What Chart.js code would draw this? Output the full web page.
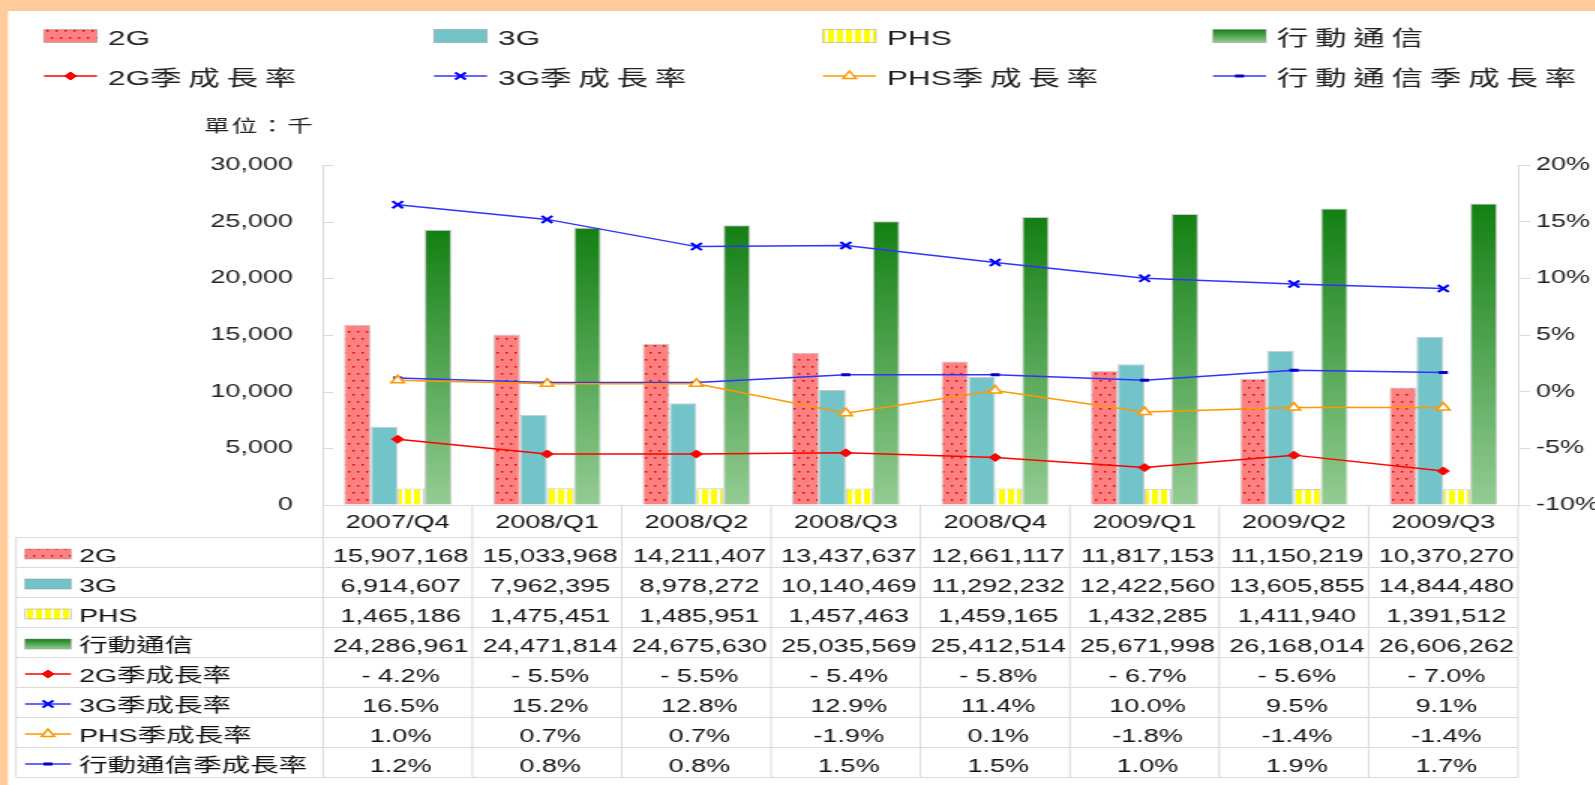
<!DOCTYPE html>
<html>
<head>
<meta charset="utf-8">
<script src="https://cdn.jsdelivr.net/npm/chart.js@4.4.1/dist/chart.umd.min.js"></script>
<style>
html, body { margin: 0; padding: 0; background: #FFCC99; overflow: hidden; }
#wrap { width: 1595px; height: 785px; overflow: hidden; }
#c { display: block; transform: scaleX(1.5); transform-origin: 0 0; }
</style>
</head>
<body>
<div id="wrap"><canvas id="c" width="1064" height="785"></canvas></div>
<script>
// the picture is stretched sideways, so the canvas is drawn narrow and stretched
var SX = 1.5;
function px(x) { return x / SX; }

var kategorie = ['2007/Q4', '2008/Q1', '2008/Q2', '2008/Q3', '2008/Q4', '2009/Q1', '2009/Q2', '2009/Q3'];

var g2 = [15907168, 15033968, 14211407, 13437637, 12661117, 11817153, 11150219, 10370270];
var g3 = [6914607, 7962395, 8978272, 10140469, 11292232, 12422560, 13605855, 14844480];
var phs = [1465186, 1475451, 1485951, 1457463, 1459165, 1432285, 1411940, 1391512];
var mobilne = [24286961, 24471814, 24675630, 25035569, 25412514, 25671998, 26168014, 26606262];

var g2Wzrost = [-4.2, -5.5, -5.5, -5.4, -5.8, -6.7, -5.6, -7.0];
var g3Wzrost = [16.5, 15.2, 12.8, 12.9, 11.4, 10.0, 9.5, 9.1];
var phsWzrost = [1.0, 0.7, 0.7, -1.9, 0.1, -1.8, -1.4, -1.4];
var mobilneWzrost = [1.2, 0.8, 0.8, 1.5, 1.5, 1.0, 1.9, 1.7];

var FONT = "'Liberation Sans', Arial, 'Noto Sans CJK TC', sans-serif";
Chart.defaults.font.family = FONT;
Chart.defaults.font.size = 18;
Chart.defaults.color = '#222';

var canvas = document.getElementById('c');
var ctx = canvas.getContext('2d');

// red dots on pink
var kafel = document.createElement('canvas');
kafel.width = 6; kafel.height = 14;
var k = kafel.getContext('2d');
k.fillStyle = '#FF8080'; k.fillRect(0, 0, 6, 14);
k.fillStyle = '#E00000';
k.fillRect(1, 2, 1.4, 1.6);
k.fillRect(4, 9, 1.4, 1.6);
var kropki = ctx.createPattern(kafel, 'repeat');

// yellow stripes
var kafel2 = document.createElement('canvas');
kafel2.width = 6; kafel2.height = 4;
var k2 = kafel2.getContext('2d');
k2.fillStyle = '#FFFFFF'; k2.fillRect(0, 0, 6, 4);
k2.fillStyle = '#FFFF00'; k2.fillRect(0, 0, 4, 4);
var paski = ctx.createPattern(kafel2, 'repeat');

function zielony(top, bottom) {
    var g = ctx.createLinearGradient(0, top, 0, bottom);
    g.addColorStop(0, '#138013');
    g.addColorStop(1, '#94CC94');
    return g;
}

function zielonySlupek(c) {
    var chart = c.chart;
    if (!chart.chartArea || c.type !== 'data') return '#4A9A4A';
    var top = chart.scales.y.getPixelForValue(c.raw);
    return zielony(top, chart.chartArea.bottom);
}

function tysiace(arr) { return arr.map(function (v) { return v / 1000; }); }

var ramka = 'rgba(140,140,140,0.45)';

function marker(c, styl, x, y, r, fill, stroke, lw) {
    c.save();
    c.fillStyle = fill; c.strokeStyle = stroke; c.lineWidth = lw;
    c.beginPath();
    if (styl === 'rectRot') {
        c.moveTo(x - r, y); c.lineTo(x, y - r); c.lineTo(x + r, y); c.lineTo(x, y + r); c.closePath();
        c.fill(); c.stroke();
    } else if (styl === 'crossRot') {
        var d = r * 0.707;
        c.moveTo(x - d, y - d); c.lineTo(x + d, y + d);
        c.moveTo(x + d, y - d); c.lineTo(x - d, y + d);
        c.stroke();
    } else if (styl === 'triangle') {
        c.moveTo(x, y - r); c.lineTo(x + r * 0.866, y + r * 0.5); c.lineTo(x - r * 0.866, y + r * 0.5); c.closePath();
        c.fill(); c.stroke();
    } else {
        c.moveTo(x - r, y); c.lineTo(x + r, y);
        c.stroke();
    }
    c.restore();
}

function wzor(c, ds, x, y, w, h) {
    c.save();
    if (ds.type === 'bar') {
        c.fillStyle = ds.label === '行動通信' ? zielony(y - h / 2, y + h / 2) : ds.backgroundColor;
        c.fillRect(x, y - h / 2, w, h);
        c.strokeStyle = ramka; c.lineWidth = 1;
        c.strokeRect(x, y - h / 2, w, h);
    } else {
        c.strokeStyle = ds.borderColor; c.lineWidth = 1.5;
        c.beginPath(); c.moveTo(x, y); c.lineTo(x + w, y); c.stroke();
        marker(c, ds.pointStyle, x + w / 2, y, ds.pointRadius, ds.pointBackgroundColor, ds.pointBorderColor, ds.pointBorderWidth);
    }
    c.restore();
}

function napis(c, s, x, y, odstep) {
    for (var ch of s) {
        c.fillText(ch, x, y);
        x += c.measureText(ch).width + (/[\u3000-\u9fff\uff00-\uffef]/.test(ch) ? odstep : 0);
    }
}

function liczba(v) { return v.toLocaleString('en-US'); }
function procent(v) { return v.toFixed(1) + '%'; }
function procent2G(v) { return (v < 0 ? '- ' + Math.abs(v).toFixed(1) : v.toFixed(1)) + '%'; }

var wiersze = [
    { dane: g2, fmt: liczba },
    { dane: g3, fmt: liczba },
    { dane: phs, fmt: liczba },
    { dane: mobilne, fmt: liczba },
    { dane: g2Wzrost, fmt: procent2G },
    { dane: g3Wzrost, fmt: procent },
    { dane: phsWzrost, fmt: procent },
    { dane: mobilneWzrost, fmt: procent }
];

var arkusz = {
    id: 'arkusz',
    beforeDraw: function (chart) {
        var c = chart.ctx;
        c.save();
        c.fillStyle = '#FFCC99'; c.fillRect(0, 0, chart.width, chart.height);
        c.fillStyle = '#FFFFFF'; c.fillRect(px(8), 11, chart.width, chart.height);
        c.restore();
    },
    afterDraw: function (chart) {
        var c = chart.ctx;
        var area = chart.chartArea;
        var xs = chart.scales.x, ys = chart.scales.y;
        var ds = chart.data.datasets;
        c.save();

        // legend
        var kolumny = [px(44), px(434), px(823), px(1213)];
        c.font = '21px ' + FONT;
        c.fillStyle = '#222';
        c.textBaseline = 'middle';
        c.textAlign = 'left';
        for (var i = 0; i < 8; i++) {
            var kol = i % 4, rz = Math.floor(i / 4);
            var y = rz === 0 ? 37 : 77;
            wzor(c, ds[i], kolumny[kol], y - 1, px(53), 13);
            c.fillStyle = '#222';
            napis(c, ds[i].label, kolumny[kol] + px(64), y + 2, 4.5);
        }

        // unit
        c.font = '17px ' + FONT;
        napis(c, '單位：千', px(204), 127, 1.5);

        // inward ticks on the left axis
        c.strokeStyle = '#D9D9D9'; c.lineWidth = 1;
        ys.ticks.forEach(function (t) {
            var ty = Math.round(ys.getPixelForValue(t.value)) + 0.5;
            c.beginPath(); c.moveTo(area.left, ty); c.lineTo(area.left + px(10), ty); c.stroke();
        });

        // data table grid
        var gora = 537, wys = 30, dol = gora + wys * 8;
        var lewo = px(16);
        var szer = (area.right - area.left) / kategorie.length;
        c.strokeStyle = '#D9D9D9';
        for (var r = 0; r <= 8; r++) {
            var ly = gora + r * wys + 0.5;
            c.beginPath(); c.moveTo(lewo, ly); c.lineTo(area.right, ly); c.stroke();
        }
        c.beginPath(); c.moveTo(lewo, gora); c.lineTo(lewo, dol); c.stroke();
        for (var j = 0; j <= kategorie.length; j++) {
            var lx = area.left + j * szer;
            c.beginPath(); c.moveTo(lx, area.bottom); c.lineTo(lx, dol); c.stroke();
        }

        // row headers and values
        for (var r2 = 0; r2 < 8; r2++) {
            var cy = gora + r2 * wys + 20;
            wzor(c, ds[r2], px(25), cy - 3, px(46), 10);
            c.fillStyle = '#111';
            c.textAlign = 'left';
            c.font = '19px ' + FONT;
            napis(c, ds[r2].label, px(79), cy, 0);
            c.textAlign = 'center';
            c.font = '18px ' + FONT;
            var w = wiersze[r2];
            for (var q = 0; q < kategorie.length; q++) {
                c.fillText(w.fmt(w.dane[q]), xs.getPixelForValue(q) + px(3), cy);
            }
        }
        c.restore();
    }
};

var chart = new Chart(canvas, {
    data: {
        labels: kategorie,
        datasets: [{
            type: 'bar', label: '2G', data: tysiace(g2),
            backgroundColor: kropki, borderColor: ramka, borderWidth: 1, yAxisID: 'y', order: 1
        }, {
            type: 'bar', label: '3G', data: tysiace(g3),
            backgroundColor: '#72C4C8', borderColor: ramka, borderWidth: 1, yAxisID: 'y', order: 1
        }, {
            type: 'bar', label: 'PHS', data: tysiace(phs),
            backgroundColor: paski, borderColor: ramka, borderWidth: 1, yAxisID: 'y', order: 1
        }, {
            type: 'bar', label: '行動通信', data: tysiace(mobilne),
            backgroundColor: zielonySlupek, borderColor: ramka, borderWidth: 1, yAxisID: 'y', order: 1
        }, {
            type: 'line', label: '2G季成長率', data: g2Wzrost, yAxisID: 'y1', order: 0,
            borderColor: '#FF0000', borderWidth: 1.5,
            pointStyle: 'rectRot', pointRadius: 4, pointBorderWidth: 1,
            pointBackgroundColor: '#FF0000', pointBorderColor: '#FF0000'
        }, {
            type: 'line', label: '3G季成長率', data: g3Wzrost, yAxisID: 'y1', order: 0,
            borderColor: '#3333FF', borderWidth: 1.5,
            pointStyle: 'crossRot', pointRadius: 5, pointBorderWidth: 2,
            pointBackgroundColor: '#0000FF', pointBorderColor: '#0000FF'
        }, {
            type: 'line', label: 'PHS季成長率', data: phsWzrost, yAxisID: 'y1', order: 0,
            borderColor: '#FF9900', borderWidth: 1.5,
            pointStyle: 'triangle', pointRadius: 5, pointBorderWidth: 1.5,
            pointBackgroundColor: '#FFFFFF', pointBorderColor: '#FF9900'
        }, {
            type: 'line', label: '行動通信季成長率', data: mobilneWzrost, yAxisID: 'y1', order: 0,
            borderColor: '#3333FF', borderWidth: 1.5,
            pointStyle: 'line', pointRadius: 3, pointBorderWidth: 3,
            pointBackgroundColor: '#0000CC', pointBorderColor: '#0000CC'
        }]
    },
    options: {
        responsive: false,
        animation: false,
        devicePixelRatio: 1,
        layout: { padding: { top: 165, left: 0, right: 0, bottom: 0 } },
        datasets: {
            bar: { categoryPercentage: 0.72, barPercentage: 1.0 }
        },
        elements: { line: { tension: 0 } },
        plugins: { legend: { display: false }, tooltip: { enabled: false } },
        scales: {
            x: {
                offset: true,
                grid: { display: true, drawOnChartArea: false, drawTicks: false },
                border: { color: '#D9D9D9' },
                ticks: { padding: 7, color: '#111', maxRotation: 0, autoSkip: false },
                afterFit: function (s) { s.height = 785 - 505; }
            },
            y: {
                position: 'left', min: 0, max: 30000,
                grid: { drawOnChartArea: false, drawTicks: false },
                border: { color: '#D9D9D9' },
                ticks: { stepSize: 5000, padding: 20, callback: function (v) { return v.toLocaleString('en-US'); } },
                afterFit: function (s) { s.width = px(323); }
            },
            y1: {
                position: 'right', min: -10, max: 20,
                grid: { drawOnChartArea: false, tickLength: 8, color: '#D9D9D9' },
                border: { color: '#D9D9D9' },
                ticks: { stepSize: 5, padding: 4, callback: function (v) { return v + '%'; } },
                afterFit: function (s) { s.width = 1064 - px(1518); }
            }
        }
    },
    plugins: [arkusz]
});
</script>
</body>
</html>
